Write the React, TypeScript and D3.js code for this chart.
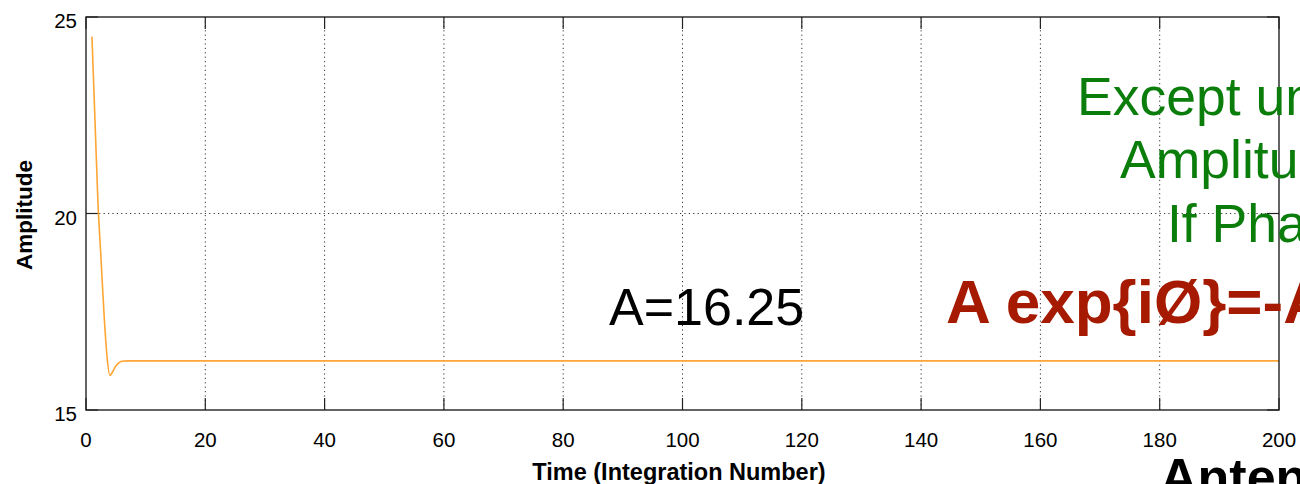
import React from "react";
import * as d3 from "d3";

// Amplitude of the solution over integration number
const timeSteps: number[] = [1, 1.5, 2, 2.5, 3, 3.5, 4, 4.5, 5, 5.5, 6, 7, 10, 50, 100, 150, 200];
const amplitude: number[] = [24.5, 22.4, 20.3, 18.9, 17.5, 16.4, 15.88, 15.98, 16.12, 16.2, 16.24, 16.25, 16.25, 16.25, 16.25, 16.25, 16.25];

const xTicks: number[] = [0, 20, 40, 60, 80, 100, 120, 140, 160, 180, 200];
const yTicks: number[] = [15, 20, 25];

const WIDTH = 1300;
const HEIGHT = 484;
const plot = { left: 86, right: 1279, top: 17, bottom: 410 };
const FONT = "'Liberation Sans', Arial, Helvetica, sans-serif";

export default function App() {
  const x = d3.scaleLinear().domain([0, 200]).range([plot.left, plot.right]);
  const y = d3.scaleLinear().domain([15, 25]).range([plot.bottom, plot.top]);

  const points = timeSteps.map((t, i) => [t, amplitude[i]] as [number, number]);
  const line = d3
    .line<[number, number]>()
    .x((d) => x(d[0]))
    .y((d) => y(d[1]))
    .curve(d3.curveMonotoneX);

  const tickLen = 12;

  return (
    <svg
      width={WIDTH}
      height={HEIGHT}
      style={{ position: "fixed", left: 0, top: 0, background: "#fff" }}
      fontFamily={FONT}
    >
      {/* dotted grid at interior ticks */}
      <g stroke="#333" strokeWidth={1} strokeDasharray="1.2,3.2">
        {xTicks.slice(1, -1).map((t) => (
          <line key={"gx" + t} x1={x(t)} x2={x(t)} y1={plot.top} y2={plot.bottom} />
        ))}
        {yTicks.slice(1, -1).map((t) => (
          <line key={"gy" + t} x1={plot.left} x2={plot.right} y1={y(t)} y2={y(t)} />
        ))}
      </g>

      {/* tick marks on all four sides */}
      <g stroke="#222" strokeWidth={1.2}>
        {xTicks.map((t) => (
          <g key={"tx" + t}>
            <line x1={x(t)} x2={x(t)} y1={plot.bottom} y2={plot.bottom - tickLen} />
            <line x1={x(t)} x2={x(t)} y1={plot.top} y2={plot.top + tickLen} />
          </g>
        ))}
        {yTicks.map((t) => (
          <g key={"ty" + t}>
            <line x1={plot.left} x2={plot.left + tickLen} y1={y(t)} y2={y(t)} />
            <line x1={plot.right} x2={plot.right - tickLen} y1={y(t)} y2={y(t)} />
          </g>
        ))}
      </g>

      {/* series */}
      <path d={line(points) ?? ""} fill="none" stroke="#FFA533" strokeWidth={1.6} />

      {/* axes box */}
      <rect
        x={plot.left}
        y={plot.top}
        width={plot.right - plot.left}
        height={plot.bottom - plot.top}
        fill="none"
        stroke="#222"
        strokeWidth={1.4}
      />

      {/* tick labels */}
      <g fontSize={20.5} fill="#000">
        {xTicks.map((t) => (
          <text key={"lx" + t} x={x(t)} y={447} textAnchor="middle">
            {t}
          </text>
        ))}
        {yTicks.map((t) => (
          <text key={"ly" + t} x={77} y={y(t) + 11} textAnchor="end">
            {t}
          </text>
        ))}
      </g>

      {/* axis titles */}
      <text x={679} y={480} textAnchor="middle" fontSize={23.5} fontWeight="bold">
        Time (Integration Number)
      </text>
      <text
        transform={`translate(32,215) rotate(-90)`}
        textAnchor="middle"
        fontSize={22.5}
        fontWeight="bold"
      >
        Amplitude
      </text>

      {/* annotations */}
      <text x={609} y={325} fontSize={52} fill="#000">
        A=16.25
      </text>
      <text x={946} y={323} fontSize={62} fontWeight="bold" fill="#A51A00">
        A exp{"{"}iØ{"}"}=-A
      </text>
      <g fontSize={53.5} fill="#0B7D0B">
        <text x={1077} y={115}>Except unknown</text>
        <text x={1120} y={178}>Amplitude</text>
        <text x={1167} y={242}>If Phase</text>
      </g>
      <text x={1160} y={495} fontSize={52} fontWeight="bold" fill="#000">
        Antenna
      </text>
    </svg>
  );
}
